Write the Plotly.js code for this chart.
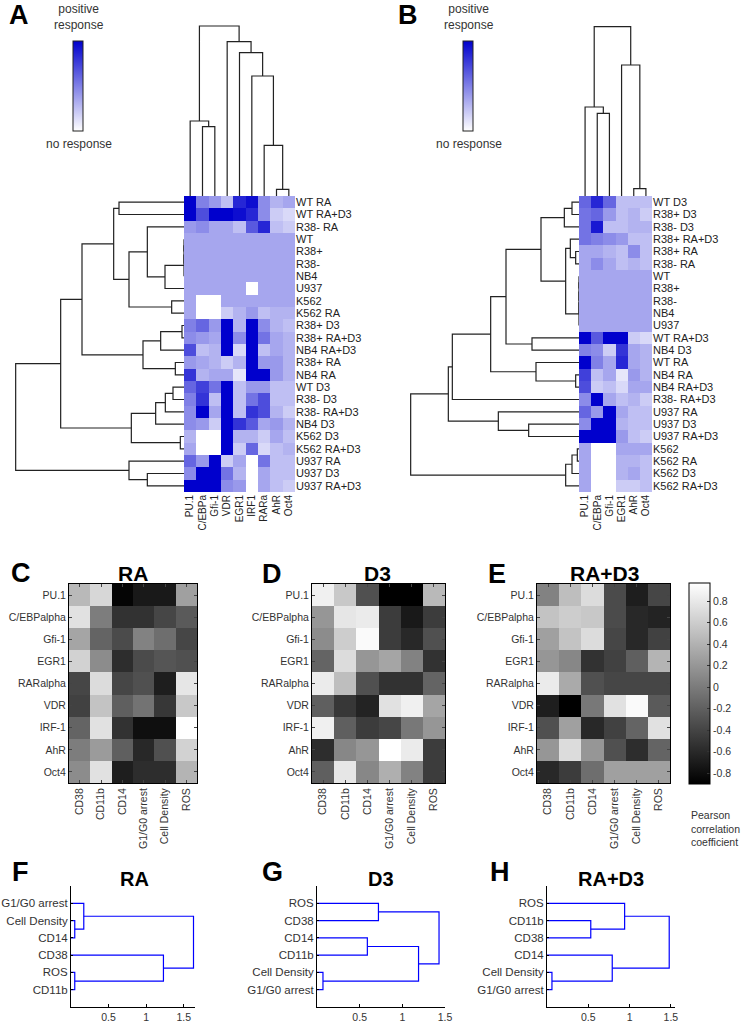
<!DOCTYPE html>
<html><head><meta charset="utf-8">
<script src="https://cdn.plot.ly/plotly-3.0.1.min.js"></script>
<style>html,body{margin:0;padding:0;background:#fff;}#chart{width:749px;height:1027px;}</style>
</head><body><div id="chart"></div>
<script>
// ---------------- DATA ----------------
const genesA = ['PU.1','C/EBPa','Gfi-1','VDR','EGR1','IRF1','RARa','AhR','Oct4'];
const samplesA = ['WT RA','WT RA+D3','R38- RA','WT','R38+','R38-','NB4','U937','K562','K562 RA',
  'R38+ D3','R38+ RA+D3','NB4 RA+D3','R38+ RA','NB4 RA','WT D3','R38- D3','R38- RA+D3','NB4 D3',
  'K562 D3','K562 RA+D3','U937 RA','U937 D3','U937 RA+D3'];
const responseA = [
  [1.0,0.5,0.4,0.25,0.85,0.95,0.45,0.3,0.35],
  [1.0,0.7,1.0,1.0,0.95,0.85,0.45,0.2,0.15],
  [0.4,0.45,0.35,0.35,0.25,0.65,0.85,0.25,0.2],
  [0.35,0.35,0.35,0.35,0.35,0.35,0.35,0.35,0.35],
  [0.35,0.35,0.35,0.35,0.35,0.35,0.35,0.35,0.35],
  [0.35,0.35,0.35,0.35,0.35,0.35,0.35,0.35,0.35],
  [0.35,0.35,0.35,0.35,0.35,0.35,0.35,0.35,0.35],
  [0.35,0.35,0.35,0.35,0.35,0,0.35,0.35,0.35],
  [0.35,0,0,0.35,0.35,0.35,0.35,0.35,0.35],
  [0.35,0,0,0.2,0.3,0.4,0.25,0.3,0.3],
  [0.5,0.6,0.4,1.0,0.3,1.0,0.45,0.3,0.25],
  [0.45,0.4,0.35,1.0,0.45,1.0,0.55,0.35,0.3],
  [0.7,0.25,0.3,1.0,0.15,1.0,0.25,0.35,0.3],
  [0.4,0.35,0.3,0.2,0.3,1.0,0.4,0.4,0.3],
  [0.8,0.3,0.35,0.35,0.1,1.0,1.0,0.4,0.3],
  [0.6,0.75,0.55,1.0,0.25,0.4,0.4,0.25,0.25],
  [0.5,0.8,0.25,1.0,0.25,0.55,0.7,0.25,0.25],
  [0.45,1.0,0.35,1.0,0.25,0.8,0.7,0.3,0.2],
  [0.45,0.4,0.2,1.0,0.8,0.65,0.35,0.4,0.3],
  [0.3,0,0,1.0,0.3,0.3,0.2,0.35,0.25],
  [0.35,0,0,1.0,0.2,0.6,0.15,0.25,0.3],
  [0.6,0.4,1.0,0.2,0.35,0,0.55,0.25,0.25],
  [0.45,1.0,1.0,0.55,0.3,0,0.35,0.25,0.25],
  [1.0,1.0,1.0,0.45,0.4,0,0.35,0.25,0.2]
];
// merges: [child, child, height]; leaves are 0..n-1 in display order, new nodes numbered after
const rowLinkA = [[3,4,0],[24,5,0],[25,6,0],[26,7,57],[2,27,110],[8,9,37],[28,29,165],[0,1,195],
  [31,30,211],[10,11,6],[33,12,70],[13,14,26],[34,35,123],[32,36,306],[15,16,33],[38,17,56],
  [39,18,85],[19,20,11],[40,41,158],[37,42,370],[22,23,110],[21,44,165],[43,45,505]];
const colLinkA = [[7,8,20],[6,9,152],[1,2,208],[0,11,225],[5,10,360],[4,13,430],[3,14,463],[12,15,510]];

const genesB = ['PU.1','C/EBPa','Gfi-1','EGR1','AhR','Oct4'];
const samplesB = ['WT D3','R38+ D3','R38- D3','R38+ RA+D3','R38+ RA','R38- RA','WT','R38+','R38-',
  'NB4','U937','WT RA+D3','NB4 D3','WT RA','NB4 RA','NB4 RA+D3','R38- RA+D3','U937 RA','U937 D3',
  'U937 RA+D3','K562','K562 RA','K562 D3','K562 RA+D3'];
const responseB = [
  [0.6,0.85,0.6,0.25,0.25,0.25],
  [0.55,0.6,0.4,0.25,0.3,0.2],
  [0.55,0.9,0.25,0.25,0.3,0.3],
  [0.55,0.5,0.45,0.4,0.25,0.25],
  [0.35,0.35,0.3,0.25,0.45,0.25],
  [0.35,0.45,0.35,0.25,0.3,0.25],
  [0.35,0.35,0.35,0.35,0.35,0.35],
  [0.35,0.35,0.35,0.35,0.35,0.35],
  [0.35,0.35,0.35,0.35,0.35,0.35],
  [0.35,0.35,0.35,0.35,0.35,0.35],
  [0.35,0.35,0.35,0.35,0.35,0.35],
  [1.0,0.65,1.0,1.0,0.2,0.15],
  [0.5,0.45,0.2,0.8,0.35,0.3],
  [1.0,0.5,0.35,0.85,0.35,0.3],
  [0.75,0.25,0.35,0.1,0.4,0.3],
  [0.7,0.2,0.25,0.15,0.35,0.35],
  [0.45,1.0,0.35,0.25,0.3,0.2],
  [0.6,0.4,1.0,0.35,0.25,0.25],
  [0.45,1.0,1.0,0.3,0.25,0.25],
  [1.0,1.0,1.0,0.4,0.25,0.2],
  [0.35,0,0,0.35,0.35,0.35],
  [0.35,0,0,0.3,0.3,0.25],
  [0.35,0,0,0.3,0.35,0.25],
  [0.35,0,0,0.2,0.2,0.25]
];
const rowLinkB = [[0,1,21],[24,2,44],[4,5,10],[3,26,26],[6,7,0],[28,8,0],[29,9,0],[30,10,0],
  [27,31,40],[25,32,114],[11,12,141],[33,34,219],[14,15,10],[13,36,129],[35,37,265],[38,16,380],
  [18,19,151],[17,40,242],[39,41,392],[20,21,5],[43,22,21],[44,23,40],[42,45,505]];
const colLinkB = [[1,2,248],[0,6,267],[4,5,22],[3,8,393],[7,9,508]];

const markers = ['CD38','CD11b','CD14','G1/G0 arrest','Cell Density','ROS'];
const factors = ['PU.1','C/EBPalpha','Gfi-1','EGR1','RARalpha','VDR','IRF-1','AhR','Oct4'];
const corrRA = [
  [0.46,0.68,-0.86,-0.72,-0.72,0.27],
  [0.75,0.02,-0.53,-0.53,-0.39,-0.24],
  [0.31,-0.17,-0.35,0.05,-0.09,-0.39],
  [0.64,0.13,-0.57,-0.35,-0.28,-0.31],
  [-0.39,0.71,-0.39,-0.31,-0.68,0.79],
  [-0.42,0.53,-0.20,-0.06,-0.50,0.57],
  [-0.17,0.75,-0.53,-0.79,-0.79,0.97],
  [0.02,0.24,-0.20,-0.61,-0.31,0.64],
  [0.13,0.75,-0.68,-0.57,-0.57,0.42]
];
const corrD3 = [
  [0.86,0.57,-0.31,-0.90,-0.90,0.46],
  [0.20,0.79,0.82,-0.46,-0.72,-0.46],
  [0.13,0.60,0.93,-0.46,-0.61,-0.31],
  [-0.17,0.71,0.20,0.31,0.05,-0.53],
  [0.82,0.49,-0.31,-0.53,-0.53,-0.17],
  [-0.20,-0.50,-0.64,0.75,0.86,0.31],
  [0.86,-0.20,-0.46,-0.39,-0.02,0.20],
  [-0.57,0.09,0.20,0.97,0.82,-0.46],
  [-0.20,0.79,0.09,0.38,0.05,-0.46]
];
const corrRAD3 = [
  [0.05,0.49,0.71,-0.35,-0.68,-0.39],
  [0.53,0.60,0.57,-0.35,-0.61,-0.64],
  [0.27,0.53,0.71,-0.39,-0.61,-0.42],
  [0.20,0.09,-0.53,-0.42,-0.20,0.42],
  [0.82,0.35,-0.31,-0.39,-0.39,-0.39],
  [-0.68,-0.90,-0.02,0.75,0.93,-0.24],
  [-0.31,0.27,-0.61,-0.42,-0.17,0.75],
  [0.20,0.71,0.20,-0.31,-0.57,-0.17],
  [-0.61,-0.46,-0.09,0.27,0.27,0.27]
];
const corrTicks = [-0.8,-0.6,-0.4,-0.2,0,0.2,0.4,0.6,0.8];
const corrTickText = ['-0.8','-0.6','-0.4','-0.2','0','0.2','0.4','0.6','0.8'];

// marker dendrograms (leaves listed bottom -> top)
const leavesF = ['CD11b','ROS','CD38','CD14','Cell Density','G1/G0 arrest'];
const linkF = [[0,1,0.05],[2,6,1.23],[3,4,0.05],[8,5,0.17],[7,9,1.63]];
const leavesG = ['G1/G0 arrest','Cell Density','CD11b','CD14','CD38','ROS'];
const linkG = [[0,1,0.07],[2,3,0.59],[6,7,1.19],[4,5,0.72],[8,9,1.43]];
const leavesH = ['G1/G0 arrest','Cell Density','CD14','CD38','CD11b','ROS'];
const linkH = [[0,1,0.06],[2,6,0.79],[3,4,0.53],[5,8,0.94],[7,9,1.48]];
const distTicks = [0.5,1,1.5];

// ---------------- HELPERS ----------------
const W = 749, H = 1027;
const FONT = 'Liberation Sans, Arial, sans-serif';
const xd = (a,b) => [a/W, b/W];
const yd = (top,bottom) => [1-bottom/H, 1-top/H];

function dendro(n, merges, orient){
  const pos=[], hgt=[];
  for(let i=0;i<n;i++){pos.push(i);hgt.push(0);}
  const xs=[], ys=[];
  merges.forEach(([a,b,h])=>{
    const pts=[[pos[a],hgt[a]],[pos[a],h],[pos[b],h],[pos[b],hgt[b]]];
    pts.forEach(p=>{ if(orient==='top'){xs.push(p[0]);ys.push(p[1]);} else {xs.push(p[1]);ys.push(p[0]);} });
    xs.push(null); ys.push(null);
    pos.push((pos[a]+pos[b])/2); hgt.push(h);
  });
  return {x:xs, y:ys};
}
function lineTrace(d, xa, ya, color, width){
  return {type:'scatter', mode:'lines', x:d.x, y:d.y, xaxis:xa, yaxis:ya,
    line:{color:color, width:width}, hoverinfo:'skip', connectgaps:false};
}
const hidden = (domain, range, anchor) => ({domain, range, anchor, visible:false, fixedrange:true, showgrid:false, zeroline:false});

const blueScale = [[0,'rgb(255,255,255)'],[1,'rgb(0,0,205)']];
const grayScale = [[0,'rgb(0,0,0)'],[1,'rgb(255,255,255)']];

// ---------------- TRACES ----------------
const traces = [];
traces.push({type:'heatmap', x:genesA, y:samplesA, z:responseA, coloraxis:'coloraxis', xaxis:'x', yaxis:'y', hoverinfo:'skip'});
traces.push(lineTrace(dendro(genesA.length, colLinkA, 'top'), 'x2','y2','#222',1.2));
traces.push(lineTrace(dendro(samplesA.length, rowLinkA, 'left'), 'x3','y3','#222',1.2));
traces.push({type:'heatmap', x:genesB, y:samplesB, z:responseB, coloraxis:'coloraxis2', xaxis:'x4', yaxis:'y4', hoverinfo:'skip'});
traces.push(lineTrace(dendro(genesB.length, colLinkB, 'top'), 'x5','y5','#222',1.2));
traces.push(lineTrace(dendro(samplesB.length, rowLinkB, 'left'), 'x6','y6','#222',1.2));
traces.push({type:'heatmap', x:markers, y:factors, z:corrRA, coloraxis:'coloraxis3', xaxis:'x7', yaxis:'y7', hoverinfo:'skip'});
traces.push({type:'heatmap', x:markers, y:factors, z:corrD3, coloraxis:'coloraxis3', xaxis:'x8', yaxis:'y8', hoverinfo:'skip'});
traces.push({type:'heatmap', x:markers, y:factors, z:corrRAD3, coloraxis:'coloraxis3', xaxis:'x9', yaxis:'y9', hoverinfo:'skip'});
traces.push(lineTrace(dendro(leavesF.length, linkF, 'left'), 'x10','y10','#0000ff',1.2));
traces.push(lineTrace(dendro(leavesG.length, linkG, 'left'), 'x11','y11','#0000ff',1.2));
traces.push(lineTrace(dendro(leavesH.length, linkH, 'left'), 'x12','y12','#0000ff',1.2));

// ---------------- LAYOUT ----------------
const layout = {
  width:W, height:H, margin:{l:0,r:0,t:0,b:0}, paper_bgcolor:'#fff', plot_bgcolor:'rgba(0,0,0,0)',
  showlegend:false, hovermode:false, font:{family:FONT, color:'#222'},
  coloraxis:{cmin:0,cmax:1,colorscale:blueScale, colorbar:{x:73/W, xanchor:'left', y:1-41/H, yanchor:'top',
    len:90, lenmode:'pixels', thickness:10, thicknessmode:'pixels', outlinewidth:1, outlinecolor:'#222',
    showticklabels:false, ticks:'', xpad:0, ypad:0, borderwidth:0}},
  coloraxis2:{cmin:0,cmax:1,colorscale:blueScale, colorbar:{x:463/W, xanchor:'left', y:1-41/H, yanchor:'top',
    len:90, lenmode:'pixels', thickness:10, thicknessmode:'pixels', outlinewidth:1, outlinecolor:'#222',
    showticklabels:false, ticks:'', xpad:0, ypad:0, borderwidth:0}},
  coloraxis3:{cmin:-0.9,cmax:0.97,colorscale:grayScale, colorbar:{x:689/W, xanchor:'left', y:1-583/H, yanchor:'top',
    len:201, lenmode:'pixels', thickness:21, thicknessmode:'pixels', outlinewidth:1, outlinecolor:'#000',
    tickvals:corrTicks, ticktext:corrTickText, ticks:'inside', ticklen:3, tickcolor:'#333',
    tickfont:{size:10.5, color:'#333', family:FONT}, xpad:0, ypad:0, borderwidth:0}},
  // A heatmap
  xaxis:{domain:xd(184,295), range:[-0.5,8.5], anchor:'y', type:'category', tickangle:-90, ticks:'',
    tickmode:'array', tickvals:genesA, ticktext:genesA,
    tickfont:{size:10, color:'#222'}, showgrid:false, zeroline:false, showline:false, fixedrange:true},
  yaxis:{domain:yd(196,492), range:[23.5,-0.5], anchor:'x', type:'category', side:'right', ticks:'',
    tickmode:'array', tickvals:samplesA, ticktext:samplesA,
    tickfont:{size:11, color:'#222'}, showgrid:false, zeroline:false, showline:false, fixedrange:true},
  xaxis2:hidden(xd(184,295), [-0.5,8.5], 'y2'),
  yaxis2:hidden(yd(20,196), [0,528], 'x2'),
  xaxis3:hidden(xd(10,184), [522,0], 'y3'),
  yaxis3:hidden(yd(196,492), [23.5,-0.5], 'x3'),
  // B heatmap
  xaxis4:{domain:xd(579,652), range:[-0.5,5.5], anchor:'y4', type:'category', tickangle:-90, ticks:'',
    tickmode:'array', tickvals:genesB, ticktext:genesB,
    tickfont:{size:10, color:'#222'}, showgrid:false, zeroline:false, showline:false, fixedrange:true},
  yaxis4:{domain:yd(196,492), range:[23.5,-0.5], anchor:'x4', type:'category', side:'right', ticks:'',
    tickmode:'array', tickvals:samplesB, ticktext:samplesB,
    tickfont:{size:11, color:'#222'}, showgrid:false, zeroline:false, showline:false, fixedrange:true},
  xaxis5:hidden(xd(579,652), [-0.5,5.5], 'y5'),
  yaxis5:hidden(yd(20,196), [0,528], 'x5'),
  xaxis6:hidden(xd(405,579), [522,0], 'y6'),
  yaxis6:hidden(yd(196,492), [23.5,-0.5], 'x6'),
  annotations:[]
};
function corrAxes(n, x0, x1){
  layout['xaxis'+n] = {domain:xd(x0,x1), range:[-0.5,5.5], anchor:'y'+n, type:'category', tickangle:-90,
    tickmode:'array', tickvals:markers, ticktext:markers,
    ticks:'inside', ticklen:3, tickcolor:'#444', mirror:'ticks', showline:true, linecolor:'#000', linewidth:1,
    tickfont:{size:10.5, color:'#333'}, showgrid:false, zeroline:false, fixedrange:true};
  layout['yaxis'+n] = {domain:yd(584,783), range:[8.5,-0.5], anchor:'x'+n, type:'category',
    tickmode:'array', tickvals:factors, ticktext:factors,
    ticks:'inside', ticklen:3, tickcolor:'#444', mirror:'ticks', showline:true, linecolor:'#000', linewidth:1,
    tickfont:{size:10.5, color:'#333'}, showgrid:false, zeroline:false, fixedrange:true};
}
corrAxes(7, 69, 197); corrAxes(8, 312, 445); corrAxes(9, 537, 670);

function distAxes(n, x0, x1, maxX, leaves){
  layout['xaxis'+n] = {domain:xd(x0,x1), range:[0,maxX], anchor:'y'+n, showline:true, linecolor:'#000', linewidth:1,
    ticks:'inside', ticklen:3, tickcolor:'#000', tickvals:distTicks, ticktext:distTicks.map(String),
    tickfont:{size:10.5, color:'#333'}, showgrid:false, zeroline:false, fixedrange:true};
  layout['yaxis'+n] = {domain:yd(886,1007), range:[-1,6], anchor:'x'+n, showline:true, linecolor:'#000', linewidth:1,
    ticks:'inside', ticklen:2, tickcolor:'#000', tickvals:leaves.map((_,i)=>i), ticktext:leaves,
    tickfont:{size:11.5, color:'#333'}, showgrid:false, zeroline:false, fixedrange:true};
}
distAxes(10, 71, 195, 1.65, leavesF);
distAxes(11, 317, 445, 1.5, leavesG);
distAxes(12, 547, 675, 1.55, leavesH);

function ann(text, px, py, size, opts){
  layout.annotations.push(Object.assign({text:text, x:px/W, y:1-py/H, xref:'paper', yref:'paper',
    showarrow:false, xanchor:'center', yanchor:'middle', font:{size:size, color:'#000', family:FONT}}, opts||{}));
}
// panel letters
[['A',19,15],['B',408,15],['C',21,573],['D',272,574],['E',497,574],['F',20,872],['G',272,872],['H',500,872]]
  .forEach(([t,x,y])=>ann('<b>'+t+'</b>', x, y, 27));
// titles
ann('<b>RA</b>',133,573,21); ann('<b>D3</b>',378,573,21); ann('<b>RA+D3</b>',604,573,21);
ann('<b>RA</b>',134,879,20); ann('<b>D3</b>',381,879,20); ann('<b>RA+D3</b>',611,879,20);
// colour legends
ann('positive<br>response',79,17,12,{font:{size:12,color:'#333',family:FONT}});
ann('no response',79,144,12,{font:{size:12,color:'#333',family:FONT}});
ann('positive<br>response',469,17,12,{font:{size:12,color:'#333',family:FONT}});
ann('no response',469,144,12,{font:{size:12,color:'#333',family:FONT}});
ann('Pearson<br>correlation<br>coefficient',689,828,10.5,{xanchor:'left', align:'left', font:{size:10.5,color:'#333',family:FONT}});

Plotly.newPlot('chart', traces, layout, {staticPlot:true, displayModeBar:false});
</script></body></html>
